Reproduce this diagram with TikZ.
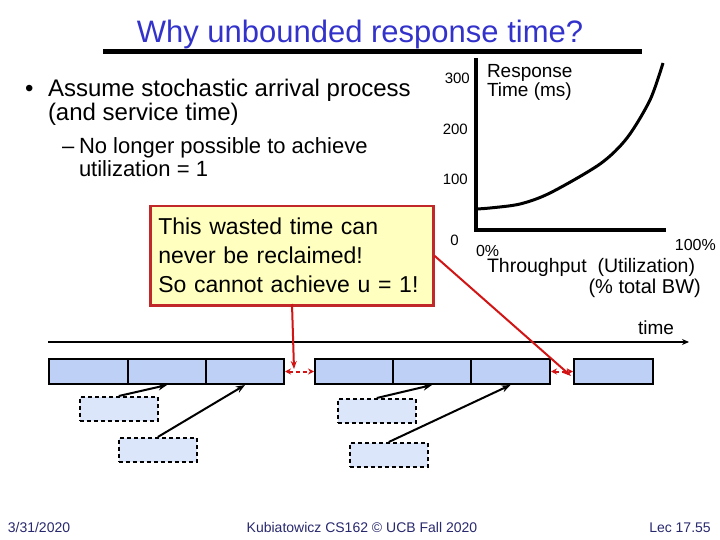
\documentclass[tikz,border=0pt]{standalone}
\usepackage{fontspec}
\setmainfont{Liberation Sans}
\usetikzlibrary{arrows.meta}
\definecolor{titleblue}{RGB}{51,51,204}
\definecolor{footblue}{RGB}{40,40,110}
\definecolor{boxblue}{RGB}{191,208,247}
\definecolor{dashblue}{RGB}{220,230,250}
\definecolor{noteyellow}{RGB}{255,255,192}
\definecolor{notered}{RGB}{192,40,42}
\definecolor{arrred}{RGB}{210,20,20}
\tikzset{
  txt/.style={anchor=base west, inner sep=0pt, outer sep=0pt},
  bigbox/.style={draw=black, line width=2pt, fill=boxblue, anchor=north west, inner sep=0pt, minimum height=25pt},
  dashbox/.style={draw=black, line width=1.6pt, dash pattern=on 4pt off 3pt, fill=dashblue, anchor=north west, inner sep=0pt, minimum width=78pt, minimum height=24pt},
  blackarrow/.style={draw=black, line width=2pt, -{Stealth[length=9pt,width=7pt]}},
  redarrow/.style={draw=arrred, line width=2pt, -{Stealth[length=8pt,width=6pt]}},
  redgap/.style={draw=arrred, line width=2pt, dash pattern=on 4pt off 3pt, {Stealth[length=6pt,width=6pt]}-{Stealth[length=6pt,width=6pt]}},
  axis/.style={line width=3.5pt, black},
  glabel/.style={inner sep=0pt, font=\fontsize{15}{18}\selectfont},
}
\begin{document}
\begin{tikzpicture}[x=1pt,y=-1pt]
\useasboundingbox (0,0) rectangle (720,540);
% title
\node[anchor=base, inner sep=0pt, text=titleblue, font=\fontsize{31}{36}\selectfont] (title) at (360,43) {Why unbounded response time?};
\draw[line width=5pt] (103,52) -- (642,52);
% bullets
\node[txt, font=\fontsize{24}{28}\selectfont] (bul) at (25,97) {•};
\node[txt, font=\fontsize{24}{28}\selectfont] (l1) at (48,97) {Assume stochastic arrival process};
\node[txt, font=\fontsize{24}{28}\selectfont] (l2) at (48,121) {(and service time)};
\node[txt, font=\fontsize{22}{25}\selectfont] (d) at (62,154) {–};
\node[txt, font=\fontsize{22}{25}\selectfont] (l3) at (79,154) {No longer possible to achieve};
\node[txt, font=\fontsize{22}{25}\selectfont] (l4) at (79,177) {utilization = 1};
% note
\node[draw=notered, line width=2.5pt, fill=noteyellow, anchor=north west, minimum width=283pt, minimum height=99pt, inner sep=0pt, align=left, text width=267pt, font=\fontsize{23}{29}\selectfont] (ybox) at (149,205)
  {This wasted time can\\never be reclaimed!\\So cannot achieve u = 1!};
% graph
\draw[axis] (476,58) -- (476,230) -- (666,230);
\draw[line width=3pt, line join=round] plot[smooth] coordinates {(476,209) (490,208) (520,204) (550,193) (600,164) (627,138) (650,100) (663,63)};
\node[glabel, anchor=base east] (y300) at (470,84) {300};
\node[glabel, anchor=base east] (y200) at (468,135) {200};
\node[glabel, anchor=base east] (y100) at (468,185) {100};
\node[glabel, anchor=base east] (y0) at (459,245) {0};
\node[txt, font=\fontsize{19}{21}\selectfont] (rt1) at (487,78) {Response};
\node[txt, font=\fontsize{19}{21}\selectfont] (rt2) at (487,97) {Time (ms)};
\node[txt, font=\fontsize{16}{19}\selectfont] (x0) at (476,256) {0\%};
\node[anchor=base east, inner sep=0pt, font=\fontsize{16}{19}\selectfont] (x100) at (716,250) {100\%};
\node[txt, font=\fontsize{19.5}{22}\selectfont] (tp) at (487,272) {Throughput \ (Utilization)};
\node[anchor=base east, inner sep=0pt, font=\fontsize{20}{22}\selectfont] (bw) at (701,293) {(\% total BW)};
% timeline
\node[anchor=base, inner sep=0pt, font=\fontsize{19}{22}\selectfont] (tl) at (656,334) {time};
\coordinate (t0) at (48,342);
\coordinate (t1) at (689,342);
\draw[line width=2pt, -{Stealth[length=7pt,width=6pt]}] (t0) -- (t1);
\node[bigbox, minimum width=79pt] (b1) at (48,358) {};
\node[bigbox, minimum width=78pt] (b2) at (127,358) {};
\node[bigbox, minimum width=78pt] (b3) at (205,358) {};
\node[bigbox, minimum width=78pt] (b4) at (314,358) {};
\node[bigbox, minimum width=78pt] (b5) at (392,358) {};
\node[bigbox, minimum width=79pt] (b6) at (470,358) {};
\node[bigbox, minimum width=79pt] (b7) at (573,358) {};
\node[dashbox] (d1) at (79,396) {};
\node[dashbox] (d2) at (118,437) {};
\node[dashbox] (d3) at (337,398) {};
\node[dashbox] (d4) at (349,442) {};
\draw[blackarrow] (d1.north) -- (b2.south);
\draw[blackarrow] (d2.north) -- (b3.south);
\draw[blackarrow] (d3.north) -- (b5.south);
\draw[blackarrow] (d4.north) -- (b6.south);
% red
\draw[redgap] (b3.east) -- (b4.west);
\draw[redgap] (b6.east) -- (b7.west);
\coordinate (ya) at (292,304);
\coordinate (yb) at (294,369);
\draw[redarrow] (ya) -- (yb);
\coordinate (yc) at (571,376);
\draw[redarrow] (ybox.east) -- (yc);
% footer
\node[anchor=base, inner sep=0pt, text=footblue, font=\fontsize{14}{16}\selectfont] (f1) at (39,532) {3/31/2020};
\node[anchor=base, inner sep=0pt, text=footblue, font=\fontsize{14}{16}\selectfont] (f2) at (362,532) {Kubiatowicz CS162 © UCB Fall 2020};
\node[anchor=base, inner sep=0pt, text=footblue, font=\fontsize{14}{16}\selectfont] (f3) at (680,532) {Lec 17.55};
\end{tikzpicture}
\end{document}
